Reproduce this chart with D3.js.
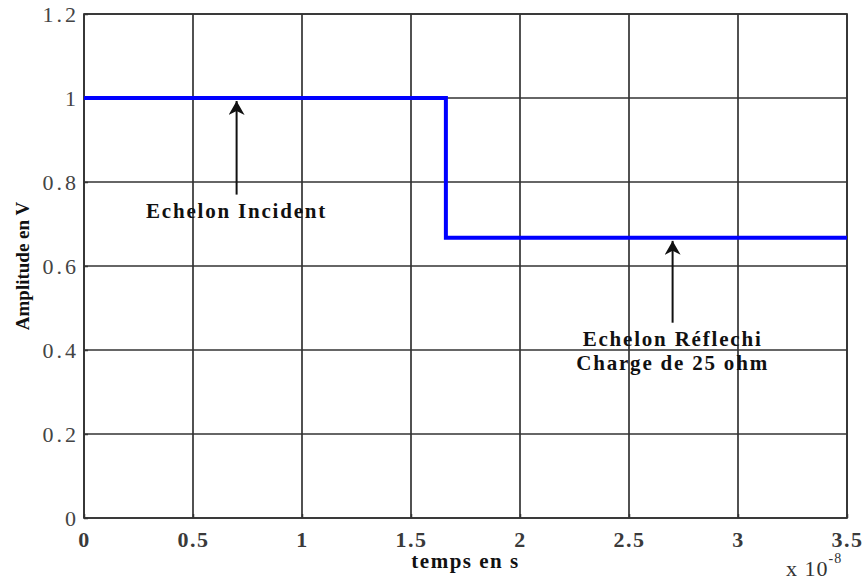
<!DOCTYPE html>
<html>
<head>
<meta charset="utf-8">
<script src="https://cdn.jsdelivr.net/npm/d3@7"></script>
<style>
  body { margin: 0; background: #fff; }
  text { font-family: "Liberation Serif", "DejaVu Serif", serif; }
</style>
</head>
<body>
<svg id="chart"></svg>
<script>
// time in units of 1e-8 s, amplitude in V
const stepTimes = [0, 1.66, 1.66, 3.5];
const stepValues = [1, 1, 0.667, 0.667];
const xTicks = [0, 0.5, 1, 1.5, 2, 2.5, 3, 3.5];
const yTicks = [0, 0.2, 0.4, 0.6, 0.8, 1, 1.2];
const annotations = [
    {t: 0.7, v: 1, tail: 0.77, lines: ['Echelon Incident']},
    {t: 2.7, v: 0.667, tail: 0.465, lines: ['Echelon Réflechi', 'Charge de 25 ohm']}
];

const config = {
    containerWidth: 864,
    containerHeight: 580,
    margin: {top: 14, right: 17, bottom: 62, left: 84}
};

const width = config.containerWidth - config.margin.left - config.margin.right;
const height = config.containerHeight - config.margin.top - config.margin.bottom;

const svg = d3.select('#chart')
    .attr('width', config.containerWidth)
    .attr('height', config.containerHeight);

const chart = svg.append('g')
    .attr('transform', `translate(${config.margin.left},${config.margin.top})`);

const xScale = d3.scaleLinear().domain([0, 3.5]).range([0, width]);
const yScale = d3.scaleLinear().domain([0, 1.2]).range([height, 0]);

// gridlines
chart.append('g')
    .selectAll('line')
    .data(xTicks)
  .join('line')
    .attr('x1', d => xScale(d)).attr('x2', d => xScale(d))
    .attr('y1', 0).attr('y2', height)
    .attr('stroke', '#333')
    .attr('stroke-width', 1.7);

chart.append('g')
    .selectAll('line')
    .data(yTicks)
  .join('line')
    .attr('x1', 0).attr('x2', width)
    .attr('y1', d => yScale(d)).attr('y2', d => yScale(d))
    .attr('stroke', '#333')
    .attr('stroke-width', 1.7);

// axes (ticks drawn inward, labels outside)
const xAxis = d3.axisBottom(xScale)
    .tickValues(xTicks)
    .tickSize(-4)
    .tickPadding(13)
    .tickFormat(d3.format('~g'));

const yAxis = d3.axisLeft(yScale)
    .tickValues(yTicks)
    .tickSize(-4)
    .tickPadding(5)
    .tickFormat(d3.format('~g'));

const xAxisG = chart.append('g')
    .attr('transform', `translate(0,${height})`)
    .call(xAxis);

const yAxisG = chart.append('g').call(yAxis);

[xAxisG, yAxisG].forEach(g => {
    g.select('.domain').remove();
    g.selectAll('.tick line').attr('stroke', '#333').attr('stroke-width', 1.5);
    g.selectAll('.tick text')
        .style('font-family', '"Liberation Serif", serif')
        .style('font-size', '22px')
        .attr('fill', '#444');
});
yAxisG.selectAll('.tick text').style('letter-spacing', '3px');
xAxisG.selectAll('.tick text')
    .style('font-weight', 'bold')
    .style('letter-spacing', '1.5px')
    .attr('fill', '#3a3a3a');

// frame
chart.append('rect')
    .attr('width', width)
    .attr('height', height)
    .attr('fill', 'none')
    .attr('stroke', '#333')
    .attr('stroke-width', 1.7);

// step signal
const line = d3.line()
    .x(d => xScale(d[0]))
    .y(d => yScale(d[1]));

chart.append('path')
    .datum(d3.zip(stepTimes, stepValues))
    .attr('d', line)
    .attr('fill', 'none')
    .attr('stroke', '#0000ff')
    .attr('stroke-width', 4);

// annotations
svg.append('defs').append('marker')
    .attr('id', 'arrow')
    .attr('viewBox', '0 0 14 16')
    .attr('refX', 14).attr('refY', 8)
    .attr('markerWidth', 7).attr('markerHeight', 8)
    .attr('markerUnits', 'strokeWidth')
    .attr('orient', 'auto')
  .append('path')
    .attr('d', 'M0,0 L14,8 L0,16 L4,8 Z')
    .attr('fill', '#111');

annotations.forEach(a => {
    chart.append('line')
        .attr('x1', xScale(a.t)).attr('x2', xScale(a.t))
        .attr('y1', yScale(a.tail)).attr('y2', yScale(a.v) + 3)
        .attr('stroke', '#111')
        .attr('stroke-width', 2)
        .attr('marker-end', 'url(#arrow)');

    chart.append('text')
        .attr('x', xScale(a.t))
        .attr('y', yScale(a.tail) + 23)
        .attr('text-anchor', 'middle')
        .style('font-size', '21px')
        .style('font-weight', 'bold')
        .style('letter-spacing', '1.8px')
        .attr('fill', '#111')
        .selectAll('tspan')
        .data(a.lines)
      .join('tspan')
        .attr('x', xScale(a.t))
        .attr('dy', (d, i) => i ? 24 : 0)
        .text(d => d);
});

// axis titles
svg.append('text')
    .attr('x', config.margin.left + width / 2)
    .attr('y', 568)
    .attr('text-anchor', 'middle')
    .style('font-size', '21px')
    .style('font-weight', 'bold')
    .style('letter-spacing', '1.5px')
    .attr('fill', '#111')
    .text('temps en s');

svg.append('text')
    .attr('transform', `translate(29,${config.margin.top + height / 2}) rotate(-90)`)
    .attr('text-anchor', 'middle')
    .style('font-size', '19px')
    .style('font-weight', 'bold')
    .attr('fill', '#111')
    .text('Amplitude en V');

// exponent label
const expo = svg.append('text')
    .attr('x', 786)
    .attr('y', 576)
    .style('font-size', '22px')
    .style('letter-spacing', '1px')
    .attr('fill', '#333');
expo.append('tspan').text('x 10');
expo.append('tspan')
    .attr('dy', -13)
    .style('font-size', '14px')
    .text('-8');
</script>
</body>
</html>
